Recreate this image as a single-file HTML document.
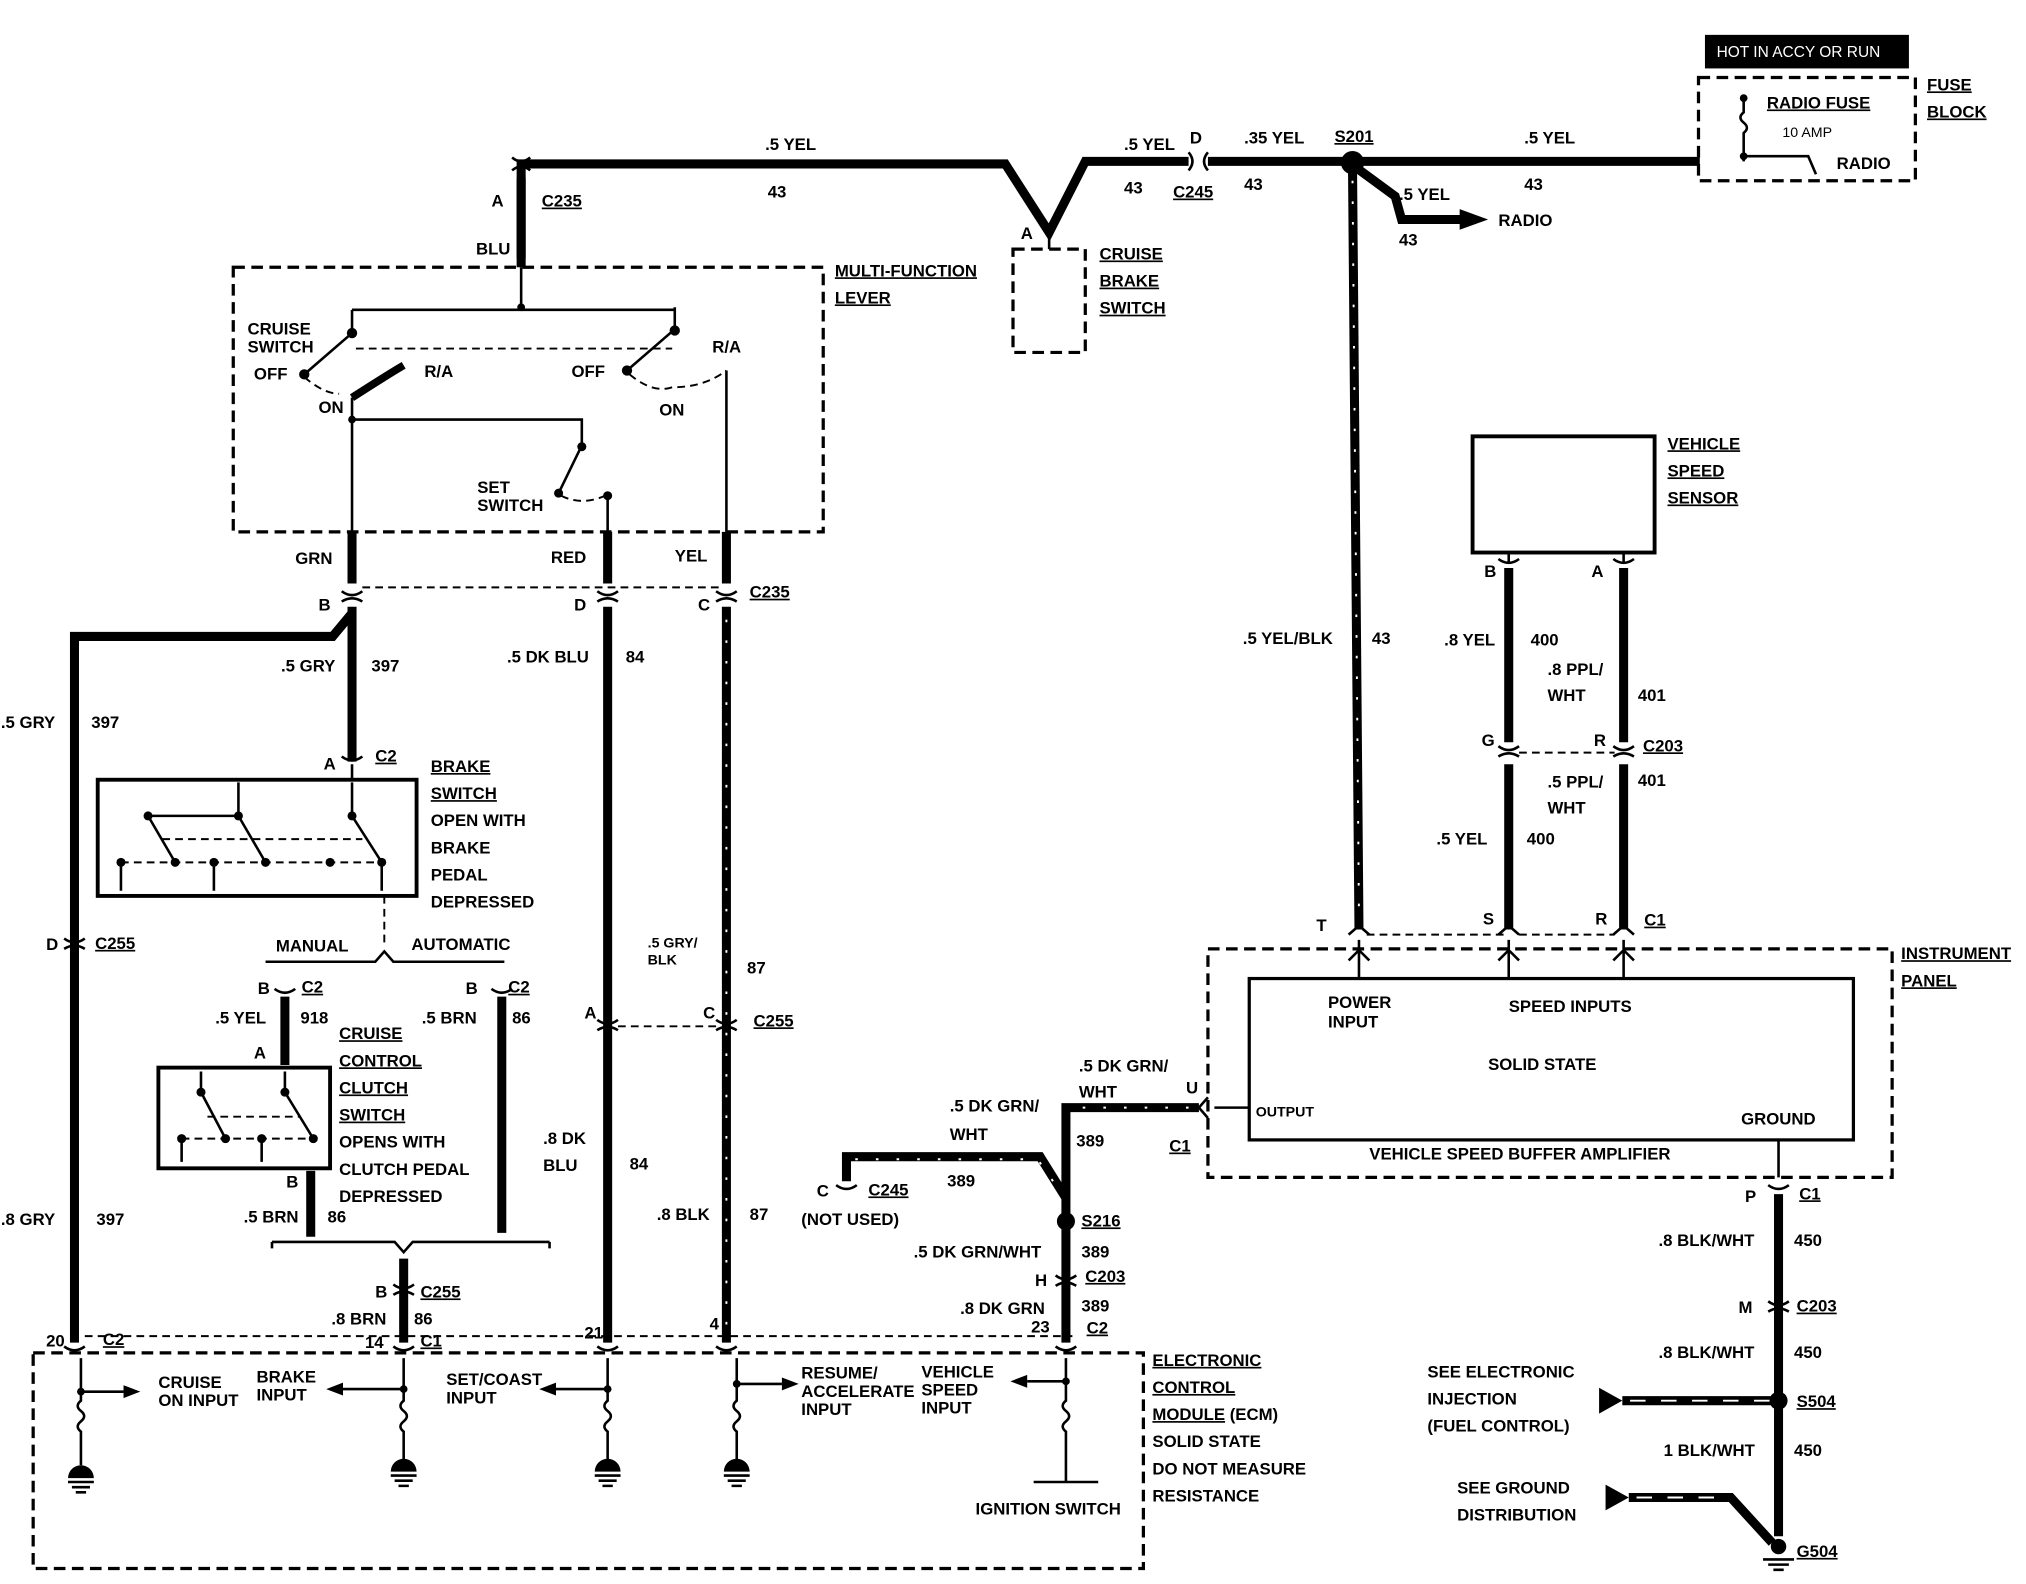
<!DOCTYPE html>
<html><head><style>
html,body{margin:0;padding:0;background:#fff}
svg{display:block}
text{font-family:"Liberation Sans",sans-serif;font-weight:bold;font-size:13px;fill:#000}
.t{stroke:#000;stroke-width:7;fill:none}
.s{stroke:#fff;stroke-width:1.5;stroke-dasharray:2 14;fill:none}
.n{stroke:#000;stroke-width:2;fill:none}
.d{stroke:#000;stroke-width:2.5;fill:none;stroke-dasharray:9 5}
.dd{stroke:#000;stroke-width:1.5;fill:none;stroke-dasharray:6 4}
</style></head><body>
<svg width="2026" height="1584" viewBox="0 0 1568 1227" xmlns="http://www.w3.org/2000/svg">
<rect width="1568" height="1227" fill="#fff"/>
<!-- top wire -->
<path class="t" d="M403,200 V127 H778 L812,180 L840,125 H920"/>
<path class="t" d="M935,125 H1316"/>
<path class="n" d="M920,118 q6,7 0,14 M935,118 q-6,7 0,14"/>
<circle cx="1047" cy="126" r="9"/>
<path class="t" d="M1047,130 L1052,720"/><path class="s" d="M1047,140 L1052,710"/>
<path class="t" d="M1050,130 L1080,152 L1085,170 H1135"/><polygon points="1130,162 1152,170 1130,178"/>
<text x="1160" y="175">RADIO</text>
<text x="1083" y="155">.5 YEL</text><text x="1083" y="190">43</text>
<text x="592" y="116">.5 YEL</text><text x="594" y="153">43</text>
<text x="870" y="116">.5 YEL</text><text x="870" y="150">43</text>
<text x="921" y="111">D</text><text x="908" y="153" text-decoration="underline">C245</text>
<text x="963" y="111">.35 YEL</text><text x="963" y="147">43</text>
<text x="1033" y="110" text-decoration="underline">S201</text>
<text x="1180" y="111">.5 YEL</text><text x="1180" y="147">43</text>
<!-- fuse block -->
<rect x="1320" y="27" width="158" height="26" fill="#000"/>
<text x="1329" y="44" style="fill:#fff;font-weight:normal;font-size:12px">HOT IN ACCY OR RUN</text>
<rect class="d" x="1315" y="60" width="168" height="80"/>
<path class="n" d="M1350,75 v12 q-5,4 0,8 q5,4 0,8 v22 M1350,121 H1400 L1406,135"/>
<circle cx="1350" cy="76" r="3"/><circle cx="1350" cy="121" r="3"/>
<text x="1368" y="84" text-decoration="underline">RADIO FUSE</text>
<text x="1380" y="106" style="font-size:11px;font-weight:normal">10 AMP</text>
<text x="1422" y="131">RADIO</text>
<text x="1492" y="70" text-decoration="underline">FUSE</text><text x="1492" y="91" text-decoration="underline">BLOCK</text>
<!-- C235 top -->
<path class="n" d="M396,122 q7,6 14,0 M396,132 q7,-6 14,0"/>
<text x="380" y="160">A</text><text x="419" y="160" text-decoration="underline">C235</text>
<text x="368" y="197">BLU</text>
<path class="t" d="M403,138 V207"/>
<!-- cruise brake switch -->
<rect class="d" x="784" y="193" width="56" height="80"/>
<path class="n" d="M812,180 v13"/><text x="790" y="185">A</text>
<text x="851" y="201" text-decoration="underline">CRUISE</text><text x="851" y="222" text-decoration="underline">BRAKE</text><text x="851" y="243" text-decoration="underline">SWITCH</text>
<!-- multifunction lever -->
<rect class="d" x="180" y="207" width="457" height="205"/>
<text x="646" y="214" text-decoration="underline">MULTI-FUNCTION</text><text x="646" y="235" text-decoration="underline">LEVER</text>
<path class="n" d="M403,207 V238 M272,240 H522 M272,240 V258 M522,238 V255 M272,258 L235,290 M522,255 L485,287"/>
<circle cx="403" cy="238" r="3"/><circle cx="272" cy="258" r="4"/><circle cx="522" cy="256" r="4"/>
<circle cx="235" cy="290" r="4"/><circle cx="485" cy="287" r="4"/>
<path class="dd" d="M275,270 H520 M235,292 Q250,305 262,305 M487,290 Q505,305 520,300 Q545,300 562,287"/>
<path d="M272,308 Q300,290 312,283" stroke="#000" stroke-width="6" fill="none"/>
<text x="191" y="259">CRUISE</text><text x="191" y="273">SWITCH</text>
<text x="196" y="294">OFF</text><text x="328" y="292">R/A</text><text x="246" y="320">ON</text>
<text x="442" y="292">OFF</text><text x="551" y="273">R/A</text><text x="510" y="322">ON</text>
<path class="n" d="M272,308 V412 M272,325 H450 V345 L432,382 M470,383 V412 M562,287 V412"/>
<circle cx="272" cy="325" r="3"/><circle cx="450" cy="346" r="3.5"/><circle cx="432" cy="382" r="3.5"/><circle cx="470" cy="384" r="3.5"/>
<path class="dd" d="M434,384 Q450,392 468,384"/>
<text x="369" y="382">SET</text><text x="369" y="396">SWITCH</text>
<text x="228" y="437">GRN</text><text x="426" y="436">RED</text><text x="522" y="435">YEL</text>
<!-- C235 lower -->
<path class="t" d="M272,412 V452 M470,412 V452 M562,412 V452"/>
<path class="dd" d="M280,455 H556"/>
<path class="n" d="M264,458 q8,6 16,0 M264,466 q8,-5 16,0 M462,458 q8,6 16,0 M462,466 q8,-5 16,0 M554,458 q8,6 16,0 M554,466 q8,-5 16,0"/>
<text x="246" y="473">B</text><text x="444" y="473">D</text><text x="540" y="473">C</text><text x="580" y="463" text-decoration="underline">C235</text>
<!-- GRN/GRY wire -->
<path class="t" d="M272,470 V590 M272,475 L257,493 H57 V1040"/>
<text x="217" y="520">.5 GRY</text><text x="287" y="520">397</text>
<text x="0" y="564">.5 GRY</text><text x="70" y="564">397</text>
<text x="0" y="949">.8 GRY</text><text x="74" y="949">397</text>
<path class="n" d="M49,727 q8,6 16,0 M49,735 q8,-5 16,0"/><text x="35" y="736">D</text><text x="73" y="735" text-decoration="underline">C255</text>
<!-- RED / DK BLU -->
<path class="t" d="M470,470 V1040"/>
<text x="392" y="513">.5 DK BLU</text><text x="484" y="513">84</text>
<text x="420" y="886">.8 DK</text><text x="420" y="907">BLU</text><text x="487" y="906">84</text>
<!-- YEL / GRY BLK -->
<path class="t" d="M562,470 V1040"/><path class="s" d="M562,480 V1030"/>
<text x="501" y="734" style="font-size:11px">.5 GRY/</text><text x="501" y="747" style="font-size:11px">BLK</text><text x="578" y="754">87</text>
<text x="508" y="945">.8 BLK</text><text x="580" y="945">87</text>
<path class="dd" d="M478,795 H556"/>
<path class="n" d="M462,790 q8,6 16,0 M462,798 q8,-5 16,0 M554,790 q8,6 16,0 M554,798 q8,-5 16,0"/>
<text x="452" y="789">A</text><text x="544" y="789">C</text><text x="583" y="795" text-decoration="underline">C255</text>
<!-- brake switch -->
<path class="n" d="M264,586 q8,6 16,0"/><text x="250" y="596">A</text><text x="290" y="590" text-decoration="underline">C2</text>
<rect x="75" y="604" width="247" height="90" fill="none" stroke="#000" stroke-width="3"/>
<path class="n" d="M272,592 V604 M184,606 V632 M114,632 H184 M114,632 L135,668 M184,632 L205,668 M272,606 V632 L295,668 M93,668 V690 M165,668 V690 M295,668 V690"/>
<path class="dd" d="M125,650 H280 M93,668 H295"/>
<circle cx="114" cy="632" r="3.5"/><circle cx="184" cy="632" r="3.5"/><circle cx="272" cy="632" r="3.5"/><circle cx="135" cy="668" r="3.5"/><circle cx="205" cy="668" r="3.5"/><circle cx="93" cy="668" r="3.5"/><circle cx="165" cy="668" r="3.5"/><circle cx="255" cy="668" r="3.5"/><circle cx="295" cy="668" r="3.5"/>
<text x="333" y="598" text-decoration="underline">BRAKE</text><text x="333" y="619" text-decoration="underline">SWITCH</text>
<text x="333" y="640">OPEN WITH</text><text x="333" y="661">BRAKE</text><text x="333" y="682">PEDAL</text><text x="333" y="703">DEPRESSED</text>
<path class="dd" d="M297,694 V730"/>
<path class="n" d="M205,745 H290 L297,737 L304,745 H390"/>
<text x="213" y="737">MANUAL</text><text x="318" y="736">AUTOMATIC</text>
<!-- clutch branch -->
<path class="n" d="M212,766 q8,6 16,0 M380,766 q8,6 16,0"/>
<text x="199" y="770">B</text><text x="233" y="769" text-decoration="underline">C2</text>
<text x="360" y="770">B</text><text x="393" y="769" text-decoration="underline">C2</text>
<path class="t" d="M220,772 V825 M388,772 V955"/>
<text x="166" y="793">.5 YEL</text><text x="232" y="793">918</text><text x="326" y="793">.5 BRN</text><text x="396" y="793">86</text>
<text x="196" y="820">A</text>
<rect x="122" y="827" width="133" height="78" fill="none" stroke="#000" stroke-width="3"/>
<path class="n" d="M155,830 V846 L174,882 M220,830 V846 L242,882 M140,882 V900 M202,882 V900"/>
<path class="dd" d="M160,865 H232 M140,882 H242"/>
<circle cx="155" cy="846" r="3.5"/><circle cx="220" cy="846" r="3.5"/><circle cx="174" cy="882" r="3.5"/><circle cx="242" cy="882" r="3.5"/><circle cx="140" cy="882" r="3.5"/><circle cx="202" cy="882" r="3.5"/>
<text x="262" y="805" text-decoration="underline">CRUISE</text><text x="262" y="826" text-decoration="underline">CONTROL</text><text x="262" y="847" text-decoration="underline">CLUTCH</text><text x="262" y="868" text-decoration="underline">SWITCH</text>
<text x="262" y="889">OPENS WITH</text><text x="262" y="910">CLUTCH PEDAL</text><text x="262" y="931">DEPRESSED</text>
<text x="221" y="920">B</text>
<path class="t" d="M240,907 V958"/>
<text x="188" y="947">.5 BRN</text><text x="253" y="947">86</text>
<path class="n" d="M210,962 H305 L312,970 L319,962 H425 M210,962 v5 M425,962 v5"/>
<path class="t" d="M312,975 V1040"/>
<path class="n" d="M304,995 q8,6 16,0 M304,1003 q8,-5 16,0"/>
<text x="290" y="1005">B</text><text x="325" y="1005" text-decoration="underline">C255</text>
<text x="256" y="1026">.8 BRN</text><text x="320" y="1026">86</text>
<!-- ECM row -->
<path class="dd" d="M65,1035 H830"/>
<path class="n" d="M49,1043 q8,6 16,0 M304,1043 q8,6 16,0 M462,1043 q8,6 16,0 M554,1043 q8,6 16,0 M817,1043 q8,6 16,0"/>
<text x="35" y="1043">20</text><text x="79" y="1042" text-decoration="underline">C2</text>
<text x="282" y="1044">14</text><text x="325" y="1043" text-decoration="underline">C1</text>
<text x="452" y="1037">21</text><text x="549" y="1030">4</text>
<text x="798" y="1032">23</text><text x="841" y="1033" text-decoration="underline">C2</text>
<rect class="d" x="25" y="1048" width="860" height="167"/>
<text x="892" y="1058" text-decoration="underline">ELECTRONIC</text><text x="892" y="1079" text-decoration="underline">CONTROL</text><text x="892" y="1100"><tspan text-decoration="underline">MODULE</tspan> (ECM)</text>
<text x="892" y="1121">SOLID STATE</text><text x="892" y="1142">DO NOT MEASURE</text><text x="892" y="1163">RESISTANCE</text>
<g class="n">
<path d="M62,1052 V1085 q-5,4 0,8 q5,4 0,8 q-5,4 0,8 V1135 M62,1078 H95"/>
<path d="M312,1052 V1085 q-5,4 0,8 q5,4 0,8 q-5,4 0,8 V1135 M312,1076 H265"/>
<path d="M470,1052 V1085 q-5,4 0,8 q5,4 0,8 q-5,4 0,8 V1135 M470,1076 H430"/>
<path d="M570,1052 V1085 q-5,4 0,8 q5,4 0,8 q-5,4 0,8 V1135 M570,1072 H605"/>
<path d="M825,1052 V1085 q-5,4 0,8 q5,4 0,8 q-5,4 0,8 V1148 M800,1148 H850 M825,1070 H795"/>
</g>
<polygon points="95,1073 108,1078 95,1083"/><polygon points="265,1071 252,1076 265,1081"/><polygon points="430,1071 417,1076 430,1081"/><polygon points="605,1067 618,1072 605,1077"/><polygon points="795,1065 782,1070 795,1075"/>
<circle cx="62" cy="1078" r="3"/><circle cx="312" cy="1076" r="3"/><circle cx="470" cy="1076" r="3"/><circle cx="570" cy="1072" r="3"/><circle cx="825" cy="1070" r="3"/>
<g><path d="M52,1145 a10,10 0 0 1 20,0z"/><path class="n" d="M52,1148 H72 M55,1152 H69 M58,1156 H66"/></g>
<g><path d="M302,1140 a10,10 0 0 1 20,0z"/><path class="n" d="M302,1143 H322 M305,1147 H319 M308,1151 H316"/></g>
<g><path d="M460,1140 a10,10 0 0 1 20,0z"/><path class="n" d="M460,1143 H480 M463,1147 H477 M466,1151 H474"/></g>
<g><path d="M560,1140 a10,10 0 0 1 20,0z"/><path class="n" d="M560,1143 H580 M563,1147 H577 M566,1151 H574"/></g>
<text x="122" y="1075">CRUISE</text><text x="122" y="1089">ON INPUT</text>
<text x="198" y="1071">BRAKE</text><text x="198" y="1085">INPUT</text>
<text x="345" y="1073">SET/COAST</text><text x="345" y="1087">INPUT</text>
<text x="620" y="1068">RESUME/</text><text x="620" y="1082">ACCELERATE</text><text x="620" y="1096">INPUT</text>
<text x="713" y="1067">VEHICLE</text><text x="713" y="1081">SPEED</text><text x="713" y="1095">INPUT</text>
<text x="755" y="1173">IGNITION SWITCH</text>
<!-- VSS output -->
<path class="t" d="M928,858 H825 V1040"/><path class="s" d="M920,858 H830 V1030"/>
<path class="t" d="M825,928 L805,896 H655 V915"/><path class="s" d="M815,915 L803,898 H660"/>
<circle cx="825" cy="946" r="7"/>
<path class="n" d="M935,850 L928,858 L935,866"/>
<text x="835" y="830">.5 DK GRN/</text><text x="835" y="850">WHT</text><text x="918" y="847">U</text><text x="905" y="892" text-decoration="underline">C1</text>
<text x="735" y="861">.5 DK GRN/</text><text x="735" y="883">WHT</text><text x="833" y="888">389</text><text x="733" y="919">389</text>
<path class="n" d="M647,918 q8,6 16,0"/><text x="632" y="927">C</text><text x="672" y="926" text-decoration="underline">C245</text><text x="620" y="949">(NOT USED)</text>
<text x="837" y="950" text-decoration="underline">S216</text>
<text x="707" y="974">.5 DK GRN/WHT</text><text x="837" y="974">389</text>
<path class="n" d="M817,988 q8,6 16,0 M817,996 q8,-5 16,0"/><text x="801" y="996">H</text><text x="840" y="993" text-decoration="underline">C203</text>
<text x="743" y="1018">.8 DK GRN</text><text x="837" y="1016">389</text>
<!-- VSS -->
<rect x="1140" y="338" width="141" height="90" fill="none" stroke="#000" stroke-width="3"/>
<text x="1291" y="348" text-decoration="underline">VEHICLE</text><text x="1291" y="369" text-decoration="underline">SPEED</text><text x="1291" y="390" text-decoration="underline">SENSOR</text>
<path class="n" d="M1160,433 q8,6 16,0 M1249,433 q8,6 16,0 M1168,428 V435 M1257,428 V435"/>
<text x="1149" y="447">B</text><text x="1232" y="447">A</text>
<path class="t" d="M1168,440 V575 M1168,592 V720 M1257,440 V575 M1257,592 V720"/>
<path class="dd" d="M1176,583 H1250"/>
<path class="n" d="M1160,578 q8,6 16,0 M1160,586 q8,-5 16,0 M1249,578 q8,6 16,0 M1249,586 q8,-5 16,0"/>
<text x="1147" y="578">G</text><text x="1234" y="578">R</text><text x="1272" y="582" text-decoration="underline">C203</text>
<text x="962" y="499">.5 YEL/BLK</text><text x="1062" y="499">43</text>
<text x="1118" y="500">.8 YEL</text><text x="1185" y="500">400</text>
<text x="1198" y="523">.8 PPL/</text><text x="1198" y="543">WHT</text><text x="1268" y="543">401</text>
<text x="1198" y="610">.5 PPL/</text><text x="1198" y="630">WHT</text><text x="1268" y="609">401</text>
<text x="1112" y="654">.5 YEL</text><text x="1182" y="654">400</text>
<!-- instrument panel -->
<path class="dd" d="M1058,724 H1165 M1176,724 H1250"/>
<text x="1019" y="721">T</text><text x="1148" y="716">S</text><text x="1235" y="716">R</text><text x="1273" y="717" text-decoration="underline">C1</text>
<path class="n" d="M1044,724 l8,-7 l8,7 M1160,724 l8,-7 l8,7 M1249,724 l8,-7 l8,7"/>
<rect class="d" x="935" y="735" width="530" height="177"/>
<rect x="967" y="758" width="468" height="125" fill="none" stroke="#000" stroke-width="2.5"/>
<path class="n" d="M1052,728 V758 M1168,728 V758 M1257,728 V758 M1044,744 l8,-8 l8,8 M1160,744 l8,-8 l8,8 M1249,744 l8,-8 l8,8 M967,858 H940 M1377,883 V912"/>
<text x="1028" y="781">POWER</text><text x="1028" y="796">INPUT</text>
<text x="1168" y="784">SPEED INPUTS</text><text x="1152" y="829">SOLID STATE</text>
<text x="972" y="865" style="font-size:11px">OUTPUT</text><text x="1348" y="871">GROUND</text>
<text x="1060" y="898">VEHICLE SPEED BUFFER AMPLIFIER</text>
<text x="1472" y="743" text-decoration="underline">INSTRUMENT</text><text x="1472" y="764" text-decoration="underline">PANEL</text>
<!-- ground -->
<path class="n" d="M1369,918 q8,6 16,0"/>
<text x="1351" y="931">P</text><text x="1393" y="929" text-decoration="underline">C1</text>
<path class="t" d="M1377,925 V1190"/>
<text x="1284" y="965">.8 BLK/WHT</text><text x="1389" y="965">450</text>
<path class="n" d="M1369,1008 q8,6 16,0 M1369,1016 q8,-5 16,0"/><text x="1346" y="1017">M</text><text x="1391" y="1016" text-decoration="underline">C203</text>
<text x="1284" y="1052">.8 BLK/WHT</text><text x="1389" y="1052">450</text>
<circle cx="1377" cy="1085" r="7"/><text x="1391" y="1090" text-decoration="underline">S504</text>
<polygon points="1238,1075 1256,1085 1238,1095"/>
<path class="t" d="M1256,1085 H1372"/><path class="s" d="M1262,1085 H1370" style="stroke-dasharray:12 12"/>
<text x="1105" y="1067">SEE ELECTRONIC</text><text x="1105" y="1088">INJECTION</text><text x="1105" y="1109">(FUEL CONTROL)</text>
<text x="1288" y="1128">1 BLK/WHT</text><text x="1389" y="1128">450</text>
<polygon points="1243,1150 1261,1160 1243,1170"/>
<path class="t" d="M1261,1160 H1340 L1372,1195"/><path class="s" d="M1267,1160 H1338" style="stroke-dasharray:12 12"/>
<text x="1128" y="1157">SEE GROUND</text><text x="1128" y="1178">DISTRIBUTION</text>
<circle cx="1377" cy="1198" r="6"/><path class="n" d="M1365,1208 H1389 M1369,1212 H1385 M1373,1216 H1381"/>
<text x="1391" y="1206" text-decoration="underline">G504</text>
</svg>
</body></html>
